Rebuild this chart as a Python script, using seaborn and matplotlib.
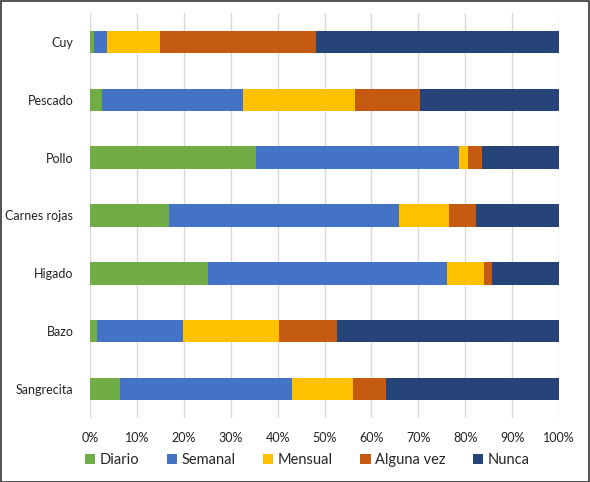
import matplotlib
matplotlib.use("Agg")
import matplotlib.pyplot as plt
import seaborn as sns
import pandas as pd
import numpy as np
from matplotlib.patches import Rectangle

categories = ["Cuy", "Pescado", "Pollo", "Carnes rojas", "Higado", "Bazo", "Sangrecita"]
series = ["Diario", "Semanal", "Mensual", "Alguna vez", "Nunca"]
diario = [0.9, 2.6, 35.3, 16.9, 25.2, 1.4, 6.3]
semanal = [2.7, 30.1, 43.4, 48.9, 50.9, 18.4, 36.8]
mensual = [11.3, 23.9, 2.0, 10.7, 7.9, 20.5, 12.9]
alguna_vez = [33.3, 13.7, 2.8, 5.8, 1.7, 12.3, 7.2]
nunca = [51.8, 29.7, 16.5, 17.7, 14.3, 47.4, 36.8]
colors = ["#70AD47", "#4472C4", "#FFC000", "#C55A11", "#264478"]
xticklabels = ["0%", "10%", "20%", "30%", "40%", "50%", "60%", "70%", "80%", "90%", "100%"]

sns.set_theme(style="white")
plt.rcParams["font.family"] = ["Lato", "DejaVu Sans"]

df = pd.DataFrame({"cat": categories, "Diario": diario, "Semanal": semanal,
                   "Mensual": mensual, "Alguna vez": alguna_vez, "Nunca": nunca})
vals = df[series].to_numpy()
totals = vals.sum(axis=1, keepdims=True)
pct = vals / totals * 100
cum = np.cumsum(pct, axis=1)

fig = plt.figure(figsize=(5.9, 4.82), dpi=100)
ax = fig.add_axes([90 / 590, 1 - 418 / 482, (559 - 90) / 590, (418 - 13) / 482])

for i in range(len(series) - 1, -1, -1):
    sns.barplot(x=cum[:, i], y=categories, color=colors[i], orient="h",
                width=0.39, ax=ax, saturation=1, edgecolor="none", linewidth=0,
                label=series[i])

ax.set_xlim(0, 100)
ax.set_ylim(6.5, -0.5)
ax.set_xticks(np.arange(0, 101, 10))
ax.set_xticklabels(xticklabels, fontsize=9, color="#222222")
ax.tick_params(axis="y", labelsize=9, colors="#222222", length=0, pad=12)
ax.tick_params(axis="x", length=0, pad=10)
ax.set_xlabel("")
ax.set_ylabel("")
for s in ax.spines.values():
    s.set_visible(False)
ax.grid(axis="x", color="#D9D9D9", linewidth=1)
ax.set_axisbelow(True)

handles = [Rectangle((0, 0), 1, 1, facecolor=c, edgecolor="none") for c in colors]
if ax.legend_:
    ax.legend_.remove()
fig.legend(handles, series, loc="center", bbox_to_anchor=(0.521, 1 - 460 / 482),
           ncol=5, frameon=False, fontsize=10.5, handlelength=0.7, handleheight=0.7,
           handletextpad=0.3, columnspacing=1.9)

fig.patches.append(Rectangle((0.5 / 590, 0.5 / 482), 1 - 1.5 / 590, 1 - 1.5 / 482,
                             transform=fig.transFigure, fill=False,
                             edgecolor="#333333", linewidth=1.2))

fig.savefig("out.png", dpi=100)
